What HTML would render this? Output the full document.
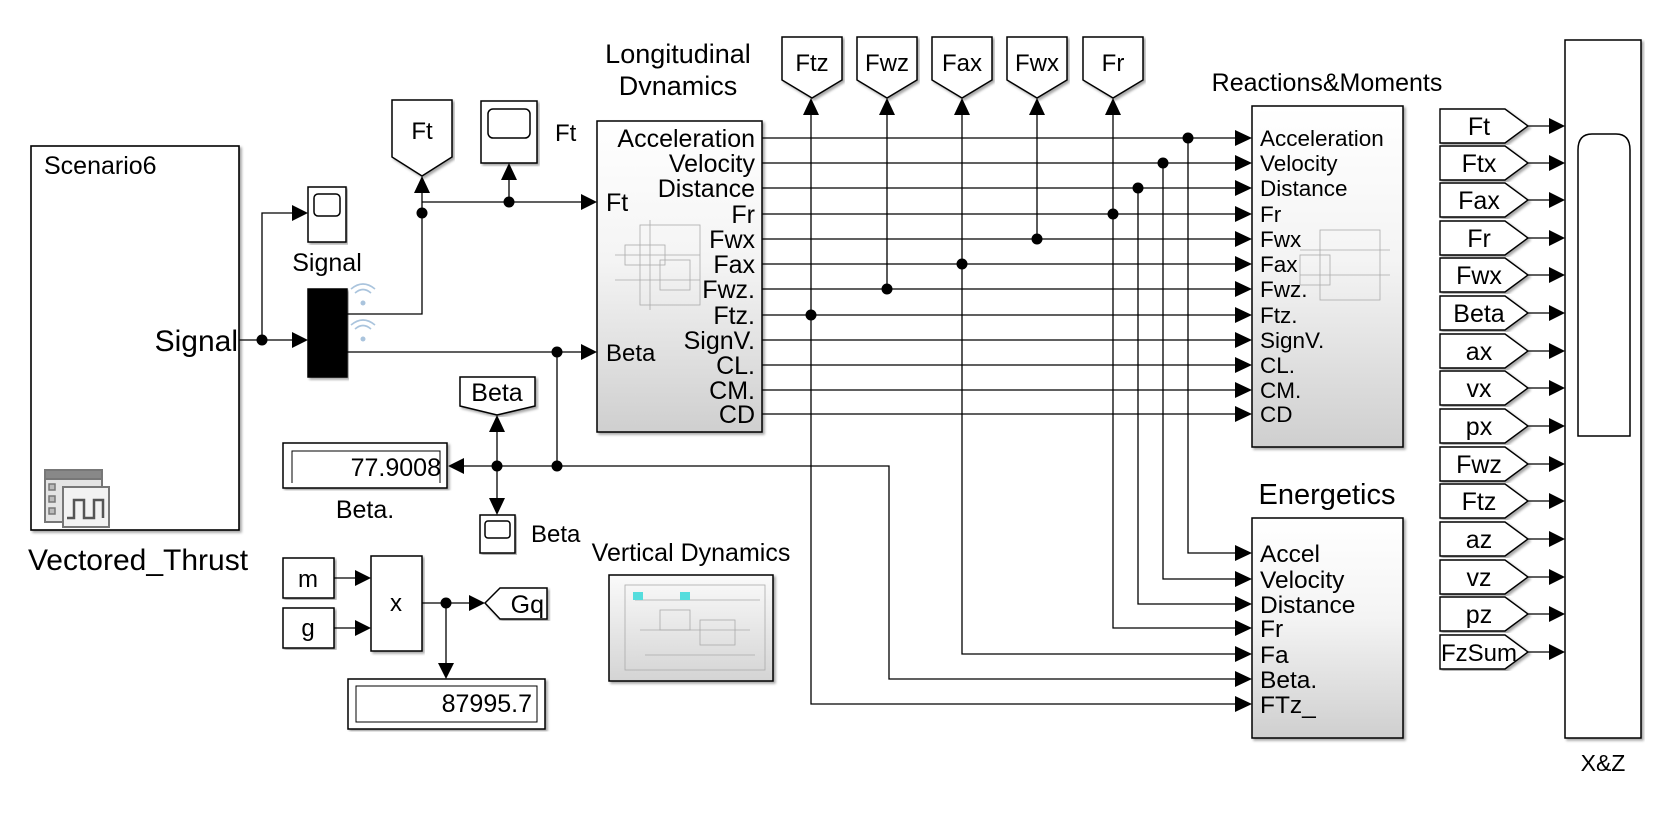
<!DOCTYPE html>
<html><head><meta charset="utf-8"><style>
html,body{margin:0;padding:0;background:#fff;}
svg{display:block;font-family:"Liberation Sans",Arial,sans-serif;}
</style></head><body>
<svg width="1668" height="813" viewBox="0 0 1668 813" xmlns="http://www.w3.org/2000/svg">
<defs>
<linearGradient id="gb" x1="0" y1="0" x2="0" y2="1"><stop offset="0" stop-color="#ffffff"/><stop offset="0.45" stop-color="#f4f4f4"/><stop offset="1" stop-color="#cfcfcf"/></linearGradient>
<linearGradient id="gv" x1="0" y1="0" x2="0" y2="1"><stop offset="0" stop-color="#fafafa"/><stop offset="1" stop-color="#d4d4d4"/></linearGradient>
<filter id="sh" x="-5%" y="-5%" width="110%" height="110%"><feDropShadow dx="2" dy="2" stdDeviation="1.2" flood-color="#000" flood-opacity="0.35"/></filter>
</defs>
<g stroke="#000" stroke-width="1.3" fill="none">
<rect x="31" y="146" width="208" height="384" fill="#fff" stroke-width="1.6" filter="url(#sh)"/>
<polyline points="239,340 300,340"/>
<polyline points="262,340 262,213 300,213"/>
<polyline points="347,314 422,314 422,178"/>
<polyline points="422,202 581,202"/>
<polyline points="509,202 509,180"/>
<polyline points="347,352 581,352"/>
<polyline points="557,352 557,466"/>
<polyline points="462,466 889,466 889,679 1235,679"/>
<polyline points="497,466 497,432"/>
<polyline points="497,466 497,498"/>
<polyline points="334,578 355,578"/>
<polyline points="334,628 355,628"/>
<polyline points="422,603 470,603"/>
<polyline points="446,603 446,663"/>
<line x1="762" y1="138" x2="1236" y2="138"/>
<line x1="762" y1="163" x2="1236" y2="163"/>
<line x1="762" y1="188" x2="1236" y2="188"/>
<line x1="762" y1="214" x2="1236" y2="214"/>
<line x1="762" y1="239" x2="1236" y2="239"/>
<line x1="762" y1="264" x2="1236" y2="264"/>
<line x1="762" y1="289" x2="1236" y2="289"/>
<line x1="762" y1="315" x2="1236" y2="315"/>
<line x1="762" y1="340" x2="1236" y2="340"/>
<line x1="762" y1="365" x2="1236" y2="365"/>
<line x1="762" y1="390" x2="1236" y2="390"/>
<line x1="762" y1="414" x2="1236" y2="414"/>
<polyline points="811,115 811,704 1236,704"/>
<polyline points="887,115 887,289"/>
<polyline points="962,115 962,654 1236,654"/>
<polyline points="1037,115 1037,239"/>
<polyline points="1113,115 1113,628 1236,628"/>
<polyline points="1188,138 1188,553 1236,553"/>
<polyline points="1163,163 1163,579 1236,579"/>
<polyline points="1138,188 1138,604 1236,604"/>
</g>
<g fill="#000">
<polygon points="292,205 308,213 292,221"/>
<polygon points="292,332 308,340 292,348"/>
<polygon points="414,193 422,176 430,193"/>
<polygon points="501,180 509,163 517,180"/>
<polygon points="581,194 597,202 581,210"/>
<polygon points="581,344 597,352 581,360"/>
<polygon points="464,458 448,466 464,474"/>
<polygon points="489,432 497,415 505,432"/>
<polygon points="489,498 497,515 505,498"/>
<polygon points="355,570 371,578 355,586"/>
<polygon points="355,620 371,628 355,636"/>
<polygon points="469,595 485,603 469,611"/>
<polygon points="438,663 446,679 454,663"/>
<polygon points="803,115 811,98 819,115"/>
<polygon points="879,115 887,98 895,115"/>
<polygon points="954,115 962,98 970,115"/>
<polygon points="1029,115 1037,98 1045,115"/>
<polygon points="1105,115 1113,98 1121,115"/>
<polygon points="1235,130 1252,138 1235,146"/>
<polygon points="1235,155 1252,163 1235,171"/>
<polygon points="1235,180 1252,188 1235,196"/>
<polygon points="1235,206 1252,214 1235,222"/>
<polygon points="1235,231 1252,239 1235,247"/>
<polygon points="1235,256 1252,264 1235,272"/>
<polygon points="1235,281 1252,289 1235,297"/>
<polygon points="1235,307 1252,315 1235,323"/>
<polygon points="1235,332 1252,340 1235,348"/>
<polygon points="1235,357 1252,365 1235,373"/>
<polygon points="1235,382 1252,390 1235,398"/>
<polygon points="1235,406 1252,414 1235,422"/>
<polygon points="1235,545 1252,553 1235,561"/>
<polygon points="1235,571 1252,579 1235,587"/>
<polygon points="1235,596 1252,604 1235,612"/>
<polygon points="1235,620 1252,628 1235,636"/>
<polygon points="1235,646 1252,654 1235,662"/>
<polygon points="1235,671 1252,679 1235,687"/>
<polygon points="1235,696 1252,704 1235,712"/>
<circle cx="262" cy="340" r="5.5"/>
<circle cx="422" cy="213" r="5.5"/>
<circle cx="509" cy="202" r="5.5"/>
<circle cx="557" cy="352" r="5.5"/>
<circle cx="557" cy="466" r="5.5"/>
<circle cx="497" cy="466" r="5.5"/>
<circle cx="446" cy="603" r="5.5"/>
<circle cx="1188" cy="138" r="5.5"/>
<circle cx="1163" cy="163" r="5.5"/>
<circle cx="1138" cy="188" r="5.5"/>
<circle cx="1113" cy="214" r="5.5"/>
<circle cx="1037" cy="239" r="5.5"/>
<circle cx="962" cy="264" r="5.5"/>
<circle cx="887" cy="289" r="5.5"/>
<circle cx="811" cy="315" r="5.5"/>
</g>
<g stroke="#000" stroke-width="1.5">
<rect x="308" y="187" width="38" height="55" fill="#fff" filter="url(#sh)"/>
<rect x="314" y="194" width="26" height="22" rx="4" fill="#fff"/>
<rect x="308" y="289" width="39" height="88" fill="#000" filter="url(#sh)"/>
<polygon points="392,100 452,100 452,157 422,176 392,157" fill="#fff" filter="url(#sh)"/>
<rect x="481" y="101" width="56" height="62" fill="#fff" filter="url(#sh)"/>
<rect x="488" y="109" width="42" height="29" rx="5" fill="#fff"/>
<rect x="597" y="121" width="165" height="311" fill="url(#gb)" filter="url(#sh)"/>
<polygon points="782,37 842,37 842,80 812,98 782,80" fill="#fff" filter="url(#sh)"/>
<polygon points="857,37 917,37 917,80 887,98 857,80" fill="#fff" filter="url(#sh)"/>
<polygon points="932,37 992,37 992,80 962,98 932,80" fill="#fff" filter="url(#sh)"/>
<polygon points="1007,37 1067,37 1067,80 1037,98 1007,80" fill="#fff" filter="url(#sh)"/>
<polygon points="1083,37 1143,37 1143,80 1113,98 1083,80" fill="#fff" filter="url(#sh)"/>
<polygon points="460,377 535,377 535,406 497,415 460,406" fill="#fff" filter="url(#sh)"/>
<rect x="283" y="443" width="164" height="45" fill="#fff" filter="url(#sh)"/>
<polyline points="292,483 292,451 440,451 440,483" fill="none" stroke-width="1"/>
<rect x="480" y="515" width="35" height="38" fill="#fff" filter="url(#sh)"/>
<rect x="485" y="521" width="25" height="17" rx="3" fill="#fff"/>
<rect x="283" y="558" width="51" height="40" fill="#fff" filter="url(#sh)"/>
<rect x="283" y="608" width="51" height="40" fill="#fff" filter="url(#sh)"/>
<rect x="371" y="556" width="51" height="95" fill="#fff" filter="url(#sh)"/>
<polygon points="485,603 500,588 547,588 547,619 500,619" fill="#fff" filter="url(#sh)"/>
<rect x="348" y="679" width="197" height="50" fill="#fff" filter="url(#sh)"/>
<rect x="356" y="686" width="181" height="36" fill="#fff" stroke-width="1"/>
<rect x="609" y="575" width="164" height="106" fill="url(#gv)" filter="url(#sh)"/>
<rect x="1252" y="106" width="151" height="341" fill="url(#gb)" filter="url(#sh)"/>
<rect x="1252" y="518" width="151" height="220" fill="url(#gb)" filter="url(#sh)"/>
<rect x="1565" y="40" width="76" height="698" fill="#fff" filter="url(#sh)"/>
<path d="M1578,436 L1578,150 Q1578,134 1592,134 L1616,134 Q1630,134 1630,150 L1630,436 Z" fill="#fff"/>
</g>
<g stroke="#777" stroke-width="2">
<rect x="45" y="470" width="57" height="52" fill="#e4e4e4"/>
<rect x="45" y="470" width="57" height="9" fill="#888"/>
<rect x="49" y="484" width="6" height="6" fill="#bbb" stroke-width="1.5"/>
<rect x="49" y="496" width="6" height="6" fill="#bbb" stroke-width="1.5"/>
<rect x="49" y="508" width="6" height="6" fill="#bbb" stroke-width="1.5"/>
<rect x="63" y="487" width="46" height="40" fill="#f2f2f2"/>
<polyline points="67,518 74,518 74,500 84,500 84,518 94,518 94,500 103,500 103,518" fill="none" stroke="#555" stroke-width="2.5"/>
</g>
<g stroke="#aaa" stroke-width="0.8" fill="none">
<rect x="625" y="245" width="40" height="20"/><rect x="640" y="225" width="60" height="80"/>
<line x1="615" y1="255" x2="700" y2="255"/><line x1="615" y1="280" x2="700" y2="280"/>
<rect x="660" y="260" width="30" height="30"/><line x1="650" y1="220" x2="650" y2="310"/>
<rect x="1320" y="230" width="60" height="70"/><line x1="1300" y1="250" x2="1390" y2="250"/>
<line x1="1300" y1="275" x2="1390" y2="275"/><rect x="1300" y="255" width="30" height="30"/>
<rect x="625" y="585" width="140" height="85"/><line x1="635" y1="600" x2="760" y2="600"/>
<line x1="640" y1="630" x2="750" y2="630"/><rect x="660" y="610" width="30" height="20"/>
<rect x="700" y="620" width="35" height="25"/><line x1="645" y1="655" x2="755" y2="655"/>
</g>
<rect x="633" y="592" width="10" height="8" fill="#5dd"/><rect x="680" y="592" width="10" height="8" fill="#5dd"/>
<g stroke="#aac4dd" stroke-width="1.6" fill="none">
<path d="M355,293 Q363,286 371,293"/><path d="M351,289 Q363,279 375,289"/>
<path d="M355,329 Q363,322 371,329"/><path d="M351,325 Q363,315 375,325"/>
</g>
<circle cx="363" cy="303" r="2.5" fill="#aac4dd"/><circle cx="363" cy="339" r="2.5" fill="#aac4dd"/>
<g stroke="#000" stroke-width="1.4" fill="#fff">
<polygon points="1440,109 1505,109 1528,126 1505,143 1440,143" filter="url(#sh)"/>
<polygon points="1440,146 1505,146 1528,163 1505,180 1440,180" filter="url(#sh)"/>
<polygon points="1440,183 1505,183 1528,200 1505,217 1440,217" filter="url(#sh)"/>
<polygon points="1440,221 1505,221 1528,238 1505,255 1440,255" filter="url(#sh)"/>
<polygon points="1440,258 1505,258 1528,275 1505,292 1440,292" filter="url(#sh)"/>
<polygon points="1440,296 1505,296 1528,313 1505,330 1440,330" filter="url(#sh)"/>
<polygon points="1440,334 1505,334 1528,351 1505,368 1440,368" filter="url(#sh)"/>
<polygon points="1440,371 1505,371 1528,388 1505,405 1440,405" filter="url(#sh)"/>
<polygon points="1440,409 1505,409 1528,426 1505,443 1440,443" filter="url(#sh)"/>
<polygon points="1440,447 1505,447 1528,464 1505,481 1440,481" filter="url(#sh)"/>
<polygon points="1440,484 1505,484 1528,501 1505,518 1440,518" filter="url(#sh)"/>
<polygon points="1440,522 1505,522 1528,539 1505,556 1440,556" filter="url(#sh)"/>
<polygon points="1440,560 1505,560 1528,577 1505,594 1440,594" filter="url(#sh)"/>
<polygon points="1440,597 1505,597 1528,614 1505,631 1440,631" filter="url(#sh)"/>
<polygon points="1440,635 1505,635 1528,652 1505,669 1440,669" filter="url(#sh)"/>
</g>
<g stroke="#000" stroke-width="1.3">
<line x1="1528" y1="126" x2="1550" y2="126"/><line x1="1528" y1="163" x2="1550" y2="163"/>
<line x1="1528" y1="200" x2="1550" y2="200"/><line x1="1528" y1="238" x2="1550" y2="238"/>
<line x1="1528" y1="275" x2="1550" y2="275"/><line x1="1528" y1="313" x2="1550" y2="313"/>
<line x1="1528" y1="351" x2="1550" y2="351"/><line x1="1528" y1="388" x2="1550" y2="388"/>
<line x1="1528" y1="426" x2="1550" y2="426"/><line x1="1528" y1="464" x2="1550" y2="464"/>
<line x1="1528" y1="501" x2="1550" y2="501"/><line x1="1528" y1="539" x2="1550" y2="539"/>
<line x1="1528" y1="577" x2="1550" y2="577"/><line x1="1528" y1="614" x2="1550" y2="614"/>
<line x1="1528" y1="652" x2="1550" y2="652"/>
</g>
<g fill="#000">
<polygon points="1549,118 1565,126 1549,134"/><polygon points="1549,155 1565,163 1549,171"/>
<polygon points="1549,192 1565,200 1549,208"/><polygon points="1549,230 1565,238 1549,246"/>
<polygon points="1549,267 1565,275 1549,283"/><polygon points="1549,305 1565,313 1549,321"/>
<polygon points="1549,343 1565,351 1549,359"/><polygon points="1549,380 1565,388 1549,396"/>
<polygon points="1549,418 1565,426 1549,434"/><polygon points="1549,456 1565,464 1549,472"/>
<polygon points="1549,493 1565,501 1549,509"/><polygon points="1549,531 1565,539 1549,547"/>
<polygon points="1549,569 1565,577 1549,585"/><polygon points="1549,606 1565,614 1549,622"/>
<polygon points="1549,644 1565,652 1549,660"/>
</g>
<g fill="#000" font-size="24">
<g font-size="25" text-anchor="middle">
<text x="1479" y="135">Ft</text>
<text x="1479" y="172">Ftx</text>
<text x="1479" y="209">Fax</text>
<text x="1479" y="247">Fr</text>
<text x="1479" y="284">Fwx</text>
<text x="1479" y="322">Beta</text>
<text x="1479" y="360">ax</text>
<text x="1479" y="397">vx</text>
<text x="1479" y="435">px</text>
<text x="1479" y="473">Fwz</text>
<text x="1479" y="510">Ftz</text>
<text x="1479" y="548">az</text>
<text x="1479" y="586">vz</text>
<text x="1479" y="623">pz</text>
</g>
<text x="1441" y="661">FzSum</text>
<text x="1603" y="771" text-anchor="middle" font-size="23">X&amp;Z</text>
<text x="812" y="71" text-anchor="middle">Ftz</text>
<text x="887" y="71" text-anchor="middle">Fwz</text>
<text x="962" y="71" text-anchor="middle">Fax</text>
<text x="1037" y="71" text-anchor="middle">Fwx</text>
<text x="1113" y="71" text-anchor="middle">Fr</text>
<text x="422" y="139" text-anchor="middle">Ft</text>
<text x="555" y="141">Ft</text>
<text x="606" y="211" font-size="25">Ft</text>
<text x="606" y="361" font-size="24">Beta</text>
<text x="497" y="401" text-anchor="middle" font-size="25">Beta</text>
<text x="441" y="476" text-anchor="end" font-size="25">77.9008</text>
<text x="365" y="518" text-anchor="middle" font-size="25">Beta.</text>
<text x="531" y="542" font-size="24">Beta</text>
<text x="308" y="587" text-anchor="middle">m</text>
<text x="308" y="636" text-anchor="middle">g</text>
<text x="396" y="611" text-anchor="middle">x</text>
<text x="544" y="613" text-anchor="end" font-size="25">Gq</text>
<text x="532" y="712" text-anchor="end" font-size="25">87995.7</text>
<text x="678" y="63" text-anchor="middle" font-size="27">Longitudinal</text>
<text x="678" y="95" text-anchor="middle" font-size="27">Dvnamics</text>
<text x="691" y="561" text-anchor="middle" font-size="25">Vertical Dynamics</text>
<text x="1327" y="91" text-anchor="middle" font-size="25">Reactions&amp;Moments</text>
<text x="1327" y="504" text-anchor="middle" font-size="29">Energetics</text>
<text x="44" y="174" font-size="25">Scenario6</text>
<text x="238" y="351" text-anchor="end" font-size="30">Signal</text>
<text x="138" y="570" text-anchor="middle" font-size="30">Vectored_Thrust</text>
<text x="327" y="271" text-anchor="middle" font-size="25">Signal</text>
<g font-size="25" text-anchor="end">
<text x="755" y="147">Acceleration</text><text x="755" y="172">Velocity</text>
<text x="755" y="197">Distance</text><text x="755" y="223">Fr</text>
<text x="755" y="248">Fwx</text><text x="755" y="273">Fax</text>
<text x="755" y="298">Fwz.</text><text x="755" y="324">Ftz.</text>
<text x="755" y="349">SignV.</text><text x="755" y="374">CL.</text>
<text x="755" y="399">CM.</text><text x="755" y="423">CD</text>
</g>
<g font-size="22.5">
<text x="1260" y="146">Acceleration</text><text x="1260" y="171">Velocity</text>
<text x="1260" y="196">Distance</text><text x="1260" y="222">Fr</text>
<text x="1260" y="247">Fwx</text><text x="1260" y="272">Fax</text>
<text x="1260" y="297">Fwz.</text><text x="1260" y="323">Ftz.</text>
<text x="1260" y="348">SignV.</text><text x="1260" y="373">CL.</text>
<text x="1260" y="398">CM.</text><text x="1260" y="422">CD</text>
</g>
<g font-size="24.5">
<text x="1260" y="562">Accel</text><text x="1260" y="588">Velocity</text>
<text x="1260" y="613">Distance</text><text x="1260" y="637">Fr</text>
<text x="1260" y="663">Fa</text><text x="1260" y="688">Beta.</text>
<text x="1260" y="713">FTz_</text>
</g>
</g>
</svg>
</body></html>
